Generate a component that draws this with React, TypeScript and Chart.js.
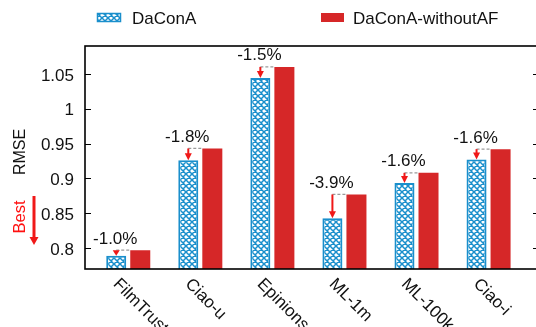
import { useEffect, useRef } from "react";
import { Chart, registerables } from "chart.js";

Chart.register(...registerables);

// Datasets and RMSE values
const categories = ["FilmTrust", "Ciao-u", "Epinions", "ML-1m", "ML-100k", "Ciao-i"];
const daconaRmse = [0.789, 0.926, 1.044, 0.843, 0.8935, 0.927];
const withoutAfRmse = [0.797, 0.943, 1.06, 0.877, 0.908, 0.942];
const yTicks = [0.8, 0.85, 0.9, 0.95, 1, 1.05];
const seriesNames = ["DaConA", "DaConA-withoutAF"];

const BLUE = "#1a8fcc";
const RED = "#d62728";
const ARROW_RED = "#f01818";
const FONT = '"Liberation Sans", Arial, Helvetica, sans-serif';

const CANVAS_W = 548;
const CANVAS_H = 327;

function makeHatch(): CanvasPattern | string {
  const size = 6;
  const c = document.createElement("canvas");
  c.width = size;
  c.height = size;
  const g = c.getContext("2d");
  if (!g) return BLUE;
  g.fillStyle = "#ffffff";
  g.fillRect(0, 0, size, size);
  g.strokeStyle = BLUE;
  g.lineWidth = 1.5;
  g.beginPath();
  for (const k of [-size, 0, size]) {
    g.moveTo(k, 0);
    g.lineTo(k + size, size);
    g.moveTo(k, size);
    g.lineTo(k + size, 0);
  }
  g.stroke();
  return g.createPattern(c, "repeat") || BLUE;
}

export default function App() {
  const canvasRef = useRef<HTMLCanvasElement | null>(null);

  useEffect(() => {
    const canvas = canvasRef.current;
    if (!canvas) return;
    const hatch = makeHatch();

    const decorations = {
      id: "decorations",
      afterDatasetsDraw(chart: any) {
        const ctx: CanvasRenderingContext2D = chart.ctx;
        const area = chart.chartArea;
        const ys = chart.scales.y;
        const xs = chart.scales.x;
        const m0 = chart.getDatasetMeta(0);
        const m1 = chart.getDatasetMeta(1);

        // comparison markers above each group
        categories.forEach((_, i) => {
          const a: any = m0.data[i];
          const b: any = m1.data[i];
          const ax = a.x;
          const aTop = a.y;
          const bTop = b.y;
          const bLeft = b.x - b.width / 2;

          ctx.save();
          ctx.setLineDash([3, 2]);
          ctx.strokeStyle = "#9a9a9a";
          ctx.lineWidth = 1.2;
          ctx.beginPath();
          ctx.moveTo(ax, bTop);
          ctx.lineTo(bLeft, bTop);
          ctx.stroke();
          ctx.restore();

          const gap = aTop - bTop;
          const head = Math.min(7, gap);
          ctx.save();
          ctx.strokeStyle = ARROW_RED;
          ctx.fillStyle = ARROW_RED;
          ctx.lineWidth = 2;
          if (gap - head > 0.5) {
            ctx.beginPath();
            ctx.moveTo(ax, bTop);
            ctx.lineTo(ax, aTop - head + 1);
            ctx.stroke();
          }
          ctx.beginPath();
          ctx.moveTo(ax - 3.5, aTop - head);
          ctx.lineTo(ax + 3.5, aTop - head);
          ctx.lineTo(ax, aTop);
          ctx.closePath();
          ctx.fill();
          ctx.restore();

          const pct = ((daconaRmse[i] / withoutAfRmse[i] - 1) * 100).toFixed(1) + "%";
          ctx.save();
          ctx.font = `17px ${FONT}`;
          ctx.fillStyle = "#111";
          ctx.textAlign = "center";
          ctx.textBaseline = "alphabetic";
          ctx.fillText(pct, ax - 1, bTop - 6.5);
          ctx.restore();
        });

        // frame and inward ticks
        ctx.save();
        ctx.strokeStyle = "#000";
        ctx.lineWidth = 1.6;
        ctx.strokeRect(area.left, area.top, area.right - area.left, area.bottom - area.top);
        ctx.lineWidth = 1;
        ctx.beginPath();
        yTicks.forEach((v) => {
          const py = Math.round(ys.getPixelForValue(v)) + 0.5;
          ctx.moveTo(area.left, py);
          ctx.lineTo(area.left + 6, py);
          ctx.moveTo(area.right - 6, py);
          ctx.lineTo(area.right, py);
        });
        ctx.stroke();
        ctx.restore();

        // rotated category labels
        ctx.save();
        ctx.font = `17px ${FONT}`;
        ctx.fillStyle = "#111";
        ctx.textAlign = "left";
        ctx.textBaseline = "middle";
        categories.forEach((name, i) => {
          const cx = xs.getPixelForValue(i);
          ctx.save();
          ctx.translate(cx - 12.5, area.bottom + 12.5);
          ctx.rotate(Math.PI / 4);
          ctx.fillText(name, 0, 0);
          ctx.restore();
        });
        ctx.restore();

        // axis title and "Best" hint
        ctx.save();
        ctx.font = `16px ${FONT}`;
        ctx.fillStyle = "#111";
        ctx.textAlign = "center";
        ctx.textBaseline = "middle";
        ctx.translate(21, 152);
        ctx.rotate(-Math.PI / 2);
        ctx.fillText("RMSE", 0, 0);
        ctx.restore();

        ctx.save();
        ctx.font = `16.5px ${FONT}`;
        ctx.fillStyle = "#ff1010";
        ctx.textAlign = "center";
        ctx.textBaseline = "middle";
        ctx.translate(20, 217);
        ctx.rotate(-Math.PI / 2);
        ctx.fillText("Best", 0, 0);
        ctx.restore();

        ctx.save();
        ctx.strokeStyle = ARROW_RED;
        ctx.fillStyle = ARROW_RED;
        ctx.lineWidth = 3;
        ctx.beginPath();
        ctx.moveTo(34, 196);
        ctx.lineTo(34, 238);
        ctx.stroke();
        ctx.beginPath();
        ctx.moveTo(29.5, 237);
        ctx.lineTo(38.5, 237);
        ctx.lineTo(34, 245);
        ctx.closePath();
        ctx.fill();
        ctx.restore();

        // legend
        ctx.save();
        ctx.fillStyle = hatch as any;
        ctx.fillRect(97, 13, 24, 9);
        ctx.strokeStyle = BLUE;
        ctx.lineWidth = 1.5;
        ctx.strokeRect(97.5, 13.5, 23, 8);
        ctx.fillStyle = RED;
        ctx.fillRect(321, 13, 23, 9);
        ctx.font = `17px ${FONT}`;
        ctx.fillStyle = "#111";
        ctx.textAlign = "left";
        ctx.textBaseline = "middle";
        ctx.fillText(seriesNames[0], 132, 19);
        ctx.fillText(seriesNames[1], 353, 19);
        ctx.restore();
      },
    };

    const chart = new Chart(canvas, {
      type: "bar",
      data: {
        datasets: [
          {
            label: seriesNames[0],
            data: daconaRmse.map((v, i) => ({ x: i, y: v })),
            backgroundColor: hatch as any,
            borderColor: BLUE,
            borderWidth: 2,
            categoryPercentage: 0.667,
            barPercentage: 0.833,
          },
          {
            label: seriesNames[1],
            data: withoutAfRmse.map((v, i) => ({ x: i, y: v })),
            backgroundColor: RED,
            borderWidth: 0,
            categoryPercentage: 0.667,
            barPercentage: 0.833,
          },
        ],
      },
      options: {
        responsive: false,
        animation: false,
        layout: { padding: { top: 46, right: CANVAS_W - 539, bottom: 0, left: 0 } },
        plugins: {
          legend: { display: false },
          tooltip: { enabled: false },
          title: { display: false },
        },
        scales: {
          x: {
            type: "linear",
            min: -0.6,
            max: 5.7,
            offset: false,
            grid: { display: false, drawTicks: false, offset: false },
            border: { display: false },
            ticks: { display: false },
            afterBuildTicks: (s: any) => {
              s.ticks = categories.map((_, i) => ({ value: i }));
            },
            afterFit: (s: any) => {
              s.height = CANVAS_H - 269;
            },
          },
          y: {
            type: "linear",
            min: 0.77,
            max: 1.09,
            grid: { display: false, drawTicks: false },
            border: { display: false },
            afterBuildTicks: (s: any) => {
              s.ticks = yTicks.map((v) => ({ value: v }));
            },
            afterFit: (s: any) => {
              s.width = 85;
            },
            ticks: {
              padding: 11,
              labelOffset: 2,
              color: "#111",
              font: { family: FONT, size: 17 },
              callback: (v: any) => String(+Number(v).toFixed(2)),
            },
          },
        },
      },
      plugins: [decorations],
    });

    return () => chart.destroy();
  }, []);

  return (
    <div
      style={{
        position: "absolute",
        left: 0,
        top: 0,
        width: 536,
        height: 327,
        overflow: "hidden",
        background: "#fff",
      }}
    >
      <canvas
        ref={canvasRef}
        width={CANVAS_W}
        height={CANVAS_H}
        style={{ display: "block", width: CANVAS_W, height: CANVAS_H }}
      />
    </div>
  );
}
